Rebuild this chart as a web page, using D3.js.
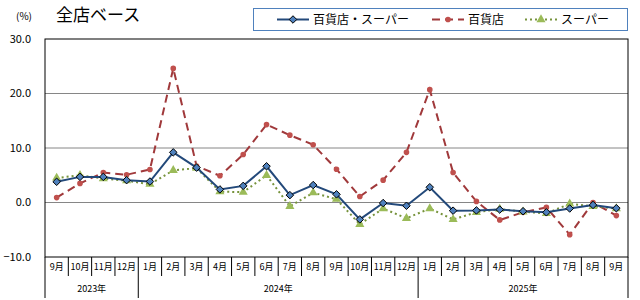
<!DOCTYPE html>
<html lang="ja">
<head>
  <meta charset="UTF-8">
  <script src="https://cdn.jsdelivr.net/npm/d3@7"></script>
  <style>
    body { margin: 0; background: #fff; }
    text { font-family: "Noto Sans CJK JP", "Noto Sans", sans-serif; }
  </style>
</head>
<body>
  <svg class="svg" width="640" height="300"></svg>
  <script>
    const months = ["9月","10月","11月","12月","1月","2月","3月","4月","5月","6月","7月","8月",
                    "9月","10月","11月","12月","1月","2月","3月","4月","5月","6月","7月","8月","9月"]
    const years = [{label: "2023年", from: 0, to: 4}, {label: "2024年", from: 4, to: 16}, {label: "2025年", from: 16, to: 25}]
    const total = [3.8, 4.7, 4.7, 4.1, 3.85, 9.2, 6.4, 2.4, 3.05, 6.65, 1.35, 3.2, 1.5, -3.1, -0.1, -0.6, 2.8, -1.5, -1.45, -1.3, -1.6, -1.8, -1.1, -0.45, -1.05]
    const dept = [0.9, 3.5, 5.5, 5.1, 6.05, 24.6, 6.7, 4.9, 8.8, 14.3, 12.35, 10.6, 6.1, 1.1, 4.1, 9.2, 20.7, 5.5, 0.2, -3.2, -1.8, -0.9, -5.9, 0.0, -2.4]
    const superm = [4.5, 5.0, 4.4, 4.0, 3.35, 5.9, 6.3, 2.0, 1.9, 5.0, -0.7, 1.8, 0.6, -4.0, -1.1, -2.9, -1.1, -3.1, -1.8, -1.2, -1.7, -2.0, -0.25, -0.7, -1.1]
    const yTicks = [30, 20, 10, 0, -10]

    const svg = d3.select(".svg")
    const margin = {top: 39, right: 12, bottom: 43, left: 45}
    const width = 640, height = 300

    const x = d3.scaleBand().domain(d3.range(months.length)).range([margin.left, width - margin.right])
    const y = d3.scaleLinear().domain([-10, 30]).range([height - margin.bottom, margin.top])
    const cx = i => x(i) + x.bandwidth() / 2

    // gridlines
    svg.append("g")
      .selectAll("line")
      .data(yTicks.filter(d => d > -10 && d < 30))
      .join("line")
      .attr("x1", margin.left).attr("x2", width - margin.right)
      .attr("y1", d => y(d)).attr("y2", d => y(d))
      .attr("stroke", "#868686").attr("stroke-width", 1)

    // frame
    svg.append("rect")
      .attr("x", margin.left).attr("y", y(30))
      .attr("width", width - margin.right - margin.left).attr("height", y(-10) - y(30))
      .attr("fill", "none").attr("stroke", "#000").attr("stroke-width", 1)

    // y labels
    svg.append("g")
      .attr("font-size", 11).attr("text-anchor", "end")
      .selectAll("text")
      .data(yTicks)
      .join("text")
      .attr("x", 31).attr("y", d => y(d)).attr("dy", "0.35em")
      .text(d => d3.format(".1f")(d))

    svg.append("text").attr("x", 16).attr("y", 20).attr("font-size", 10).text("(%)")
    svg.append("text").attr("x", 56).attr("y", 21).attr("font-size", 17).text("全店ベース")

    // category axis
    const base = y(-10)
    svg.append("g")
      .selectAll("line")
      .data(d3.range(months.length + 1))
      .join("line")
      .attr("x1", i => i < months.length ? x(i) : width - margin.right)
      .attr("x2", i => i < months.length ? x(i) : width - margin.right)
      .attr("y1", base)
      .attr("y2", i => (i === 0 || i === 4 || i === 16 || i === 25) ? 298 : 276)
      .attr("stroke", "#000")

    svg.append("g")
      .attr("font-size", 9).attr("text-anchor", "middle")
      .selectAll("text")
      .data(months)
      .join("text")
      .attr("x", (d, i) => cx(i)).attr("y", 270)
      .text(d => d)

    svg.append("g")
      .attr("font-size", 9).attr("text-anchor", "middle")
      .selectAll("text")
      .data(years)
      .join("text")
      .attr("x", d => (x(d.from) + (d.to < months.length ? x(d.to) : width - margin.right)) / 2)
      .attr("y", 292)
      .text(d => d.label)

    const series = [
      {name: "百貨店・スーパー", values: total, color: "#23497a", dash: null, width: 2, marker: "diamond", fill: "#4f81bd", mstroke: "#000"},
      {name: "百貨店", values: dept, color: "#a0393b", dash: "8,5", width: 2, marker: "circle", fill: "#c0504d", mstroke: "none"},
      {name: "スーパー", values: superm, color: "#77933c", dash: "2,3", width: 2, marker: "triangle", fill: "#9bbb59", mstroke: "none"}
    ]
    const line = d3.line().x((d, i) => cx(i)).y(d => y(d))
    const symbols = {diamond: d3.symbolDiamond2, circle: d3.symbolCircle, triangle: d3.symbolTriangle}

    const drawOrder = [series[1], series[2], series[0]]
    drawOrder.forEach(s => {
      svg.append("path")
        .datum(s.values)
        .attr("d", line)
        .attr("fill", "none")
        .attr("stroke", s.color)
        .attr("stroke-width", s.width)
        .attr("stroke-dasharray", s.dash)
      svg.append("g")
        .selectAll("path")
        .data(s.values)
        .join("path")
        .attr("transform", (d, i) => `translate(${cx(i)},${y(d)})`)
        .attr("d", d3.symbol(symbols[s.marker], s.marker === "circle" ? 25 : 36))
        .attr("fill", s.fill)
        .attr("stroke", s.mstroke)
        .attr("stroke-width", 1)
    })

    // legend
    const lg = svg.append("g")
    lg.append("rect").attr("x", 253.5).attr("y", 8.5).attr("width", 374).attr("height", 22)
      .attr("fill", "#fff").attr("stroke", "#4f81bd")
    const lx = [277, 432, 525]
    series.forEach((s, k) => {
      const g = lg.append("g").attr("transform", `translate(${lx[k]},19.5)`)
      g.append("line").attr("x1", 0).attr("x2", 32).attr("stroke", s.color)
        .attr("stroke-width", s.width).attr("stroke-dasharray", s.dash)
      g.append("path").attr("transform", "translate(16,0)")
        .attr("d", d3.symbol(symbols[s.marker], s.marker === "circle" ? 25 : 36))
        .attr("fill", s.fill).attr("stroke", s.mstroke)
      g.append("text").attr("x", 36).attr("dy", "0.35em").attr("font-size", 12).text(s.name)
    })
  </script>
</body>
</html>
